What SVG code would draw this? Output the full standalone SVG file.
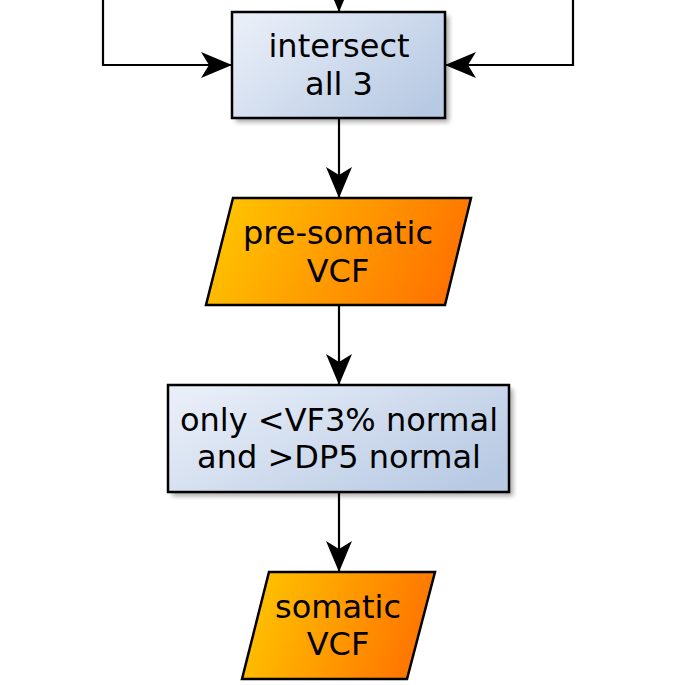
<svg xmlns="http://www.w3.org/2000/svg" width="680" height="685" viewBox="0 0 680 685">
  <style>
    .box { stroke: #000; stroke-width: 2.5; fill: url(#blueGrad); }
    .io { stroke: #000; stroke-width: 2.5; fill: url(#orangeGrad); stroke-linejoin: miter; }
    .shadow { fill: #000; opacity: 0.35; filter: url(#blur); }
    .lbl { font-family: "DejaVu Sans", "Liberation Sans", sans-serif; font-size: 32px; fill: #000; text-anchor: middle; }
    .edge { fill: none; stroke: #000; stroke-width: 2.2; marker-end: url(#arrow); }
  </style>
  <defs>
    <linearGradient id="blueGrad" x1="0" y1="0.2" x2="1" y2="0.8">
      <stop offset="0" stop-color="#e8eef8"/>
      <stop offset="1" stop-color="#b7c9e3"/>
    </linearGradient>
    <linearGradient id="orangeGrad" x1="0" y1="0.4" x2="1" y2="0.6">
      <stop offset="0" stop-color="#ffc400"/>
      <stop offset="1" stop-color="#ff7000"/>
    </linearGradient>
    <filter id="blur" x="-20%" y="-20%" width="140%" height="140%">
      <feGaussianBlur stdDeviation="2.5"/>
    </filter>
    <marker id="arrow" markerUnits="userSpaceOnUse" markerWidth="34" markerHeight="28" viewBox="-32 -14 34 28" refX="0" refY="0" orient="auto">
      <path d="M0,0 L-31,-13 L-23,0 L-31,13 Z" fill="#000"/>
    </marker>
  </defs>

  <g id="connectors">
    <path class="edge" d="M339,-40 V12"/>
    <path class="edge" d="M103,-10 V65 H232"/>
    <path class="edge" d="M573,-10 V65 H445"/>
    <path class="edge" d="M339,118 V198"/>
    <path class="edge" d="M339,305 V385"/>
    <path class="edge" d="M339,492 V572"/>
  </g>

  <g id="intersect">
    <rect class="shadow" x="236" y="16" width="213" height="106"/>
    <rect class="box" x="232" y="12" width="213" height="106"/>
    <text class="lbl" x="339" y="57">intersect</text>
    <text class="lbl" x="339" y="95">all 3</text>
  </g>

  <g id="pre-somatic">
    <polygon class="io" points="233,198 471,198 445,305 206,305"/>
    <text class="lbl" x="338" y="244">pre-somatic</text>
    <text class="lbl" x="338" y="282">VCF</text>
  </g>

  <g id="filter">
    <rect class="shadow" x="172" y="389" width="341" height="107"/>
    <rect class="box" x="168" y="385" width="341" height="107"/>
    <text class="lbl" x="339" y="431">only &lt;VF3% normal</text>
    <text class="lbl" x="339" y="468">and &gt;DP5 normal</text>
  </g>

  <g id="somatic">
    <polygon class="io" points="269,572 435,572 407,679 242,679"/>
    <text class="lbl" x="338" y="618">somatic</text>
    <text class="lbl" x="338" y="655">VCF</text>
  </g>
</svg>
